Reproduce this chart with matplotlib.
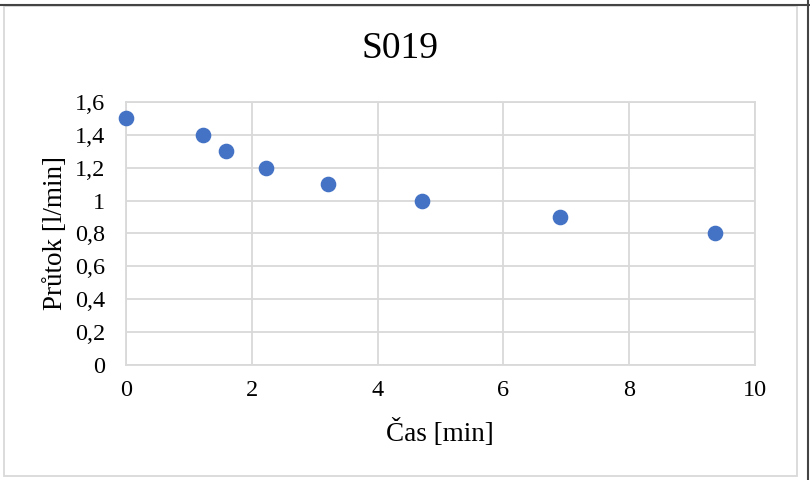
import matplotlib

matplotlib.use("Agg")
import matplotlib.pyplot as plt
from matplotlib.patches import Rectangle
from matplotlib.lines import Line2D

# time [min] vs flow [l/min]
cas_min = [0.0, 1.22, 1.59, 2.23, 3.21, 4.71, 6.90, 9.36]
prutok = [1.5, 1.4, 1.3, 1.2, 1.1, 1.0, 0.9, 0.8]
x_ticks = [0, 2, 4, 6, 8, 10]
y_ticks = [0, 0.2, 0.4, 0.6, 0.8, 1.0, 1.2, 1.4, 1.6]
y_tick_labels = ["0", "0,2", "0,4", "0,6", "0,8", "1", "1,2", "1,4", "1,6"]

plt.rcParams["font.family"] = ["Liberation Serif", "DejaVu Serif"]

W, H = 810, 480
fig = plt.figure(figsize=(W / 100, H / 100), dpi=100)
ax = fig.add_axes([126 / W, (H - 365) / H, (755 - 126) / W, (365 - 102) / H])

ax.scatter(cas_min, prutok, s=105, color="#4472C4", zorder=3, clip_on=False)

ax.set_xlim(0, 10)
ax.set_ylim(0, 1.6)
ax.set_xticks(x_ticks)
ax.set_xticklabels([str(t) for t in x_ticks])
ax.set_yticks(y_ticks)
ax.set_yticklabels(y_tick_labels)
ax.tick_params(length=0, labelsize=17.5)
ax.tick_params(axis="x", pad=11)
ax.tick_params(axis="y", pad=15)
ax.grid(color="#d9d9d9", linewidth=1.3)
ax.set_axisbelow(True)
for sp in ax.spines.values():
    sp.set_color("#d9d9d9")
    sp.set_linewidth(1.3)

fig.text(400 / W, (H - 49) / H, "S019", fontsize=27, ha="center", va="center")
fig.text(440 / W, (H - 433) / H, "Čas [min]", fontsize=19.5, ha="center", va="center")
fig.text(56 / W, (H - 233) / H, "Průtok [l/min]", fontsize=19.5, ha="center",
         va="center", rotation=90)

# chart frame
fig.patches.append(Rectangle((4 / W, (H - 476) / H), (797 - 4) / W, (476 - 6) / H,
                             transform=fig.transFigure, fill=False,
                             edgecolor="#d9d9d9", linewidth=1.3))
fig.lines.append(Line2D([0, 1], [(H - 5) / H] * 2, transform=fig.transFigure,
                        color="#444444", linewidth=1.5))
fig.lines.append(Line2D([808 / W] * 2, [0, 1], transform=fig.transFigure,
                        color="#444444", linewidth=1.5))

fig.savefig("out.png", dpi=100)
